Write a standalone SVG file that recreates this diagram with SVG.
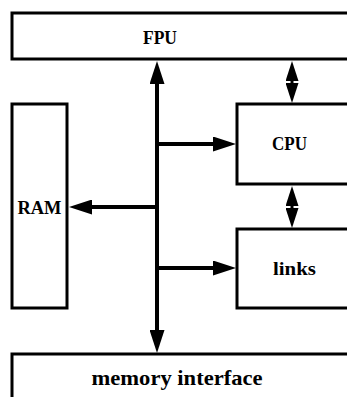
<svg xmlns="http://www.w3.org/2000/svg" width="347" height="397" viewBox="0 0 347 397">
<style>
.box{fill:#fff;stroke:#000;stroke-width:3}
.lbl{font-family:"Liberation Serif","DejaVu Serif",serif;font-weight:bold;font-size:18px;fill:#000;text-anchor:middle}
.big{font-size:21px}
.bus{stroke:#000;stroke-width:4;fill:none}
.dbl{stroke:#000;stroke-width:3;fill:none}
</style>
<defs>
<marker id="ah" markerUnits="userSpaceOnUse" markerWidth="23" markerHeight="15" viewBox="0 0 23 15" refX="1" refY="7.5" orient="auto-start-reverse"><path d="M0,0 L23,7.5 L0,15 z" fill="#000"/></marker>
<marker id="as" markerUnits="userSpaceOnUse" markerWidth="20" markerHeight="13" viewBox="0 0 20 13" refX="1" refY="6.5" orient="auto-start-reverse"><path d="M0,0 L20,6.5 L0,13 z" fill="#000"/></marker>
</defs>
<rect width="347" height="397" fill="#fff"/>
<g id="fpu"><rect class="box" x="12" y="13" width="360" height="46"/><text class="lbl" x="160" y="44" textLength="34" lengthAdjust="spacingAndGlyphs">FPU</text></g>
<g id="ram"><rect class="box" x="12" y="104" width="55" height="204"/><text class="lbl" x="39.5" y="214" textLength="44" lengthAdjust="spacingAndGlyphs">RAM</text></g>
<g id="cpu"><rect class="box" x="237" y="104" width="130" height="80"/><text class="lbl" x="289.5" y="150" textLength="35" lengthAdjust="spacingAndGlyphs">CPU</text></g>
<g id="links"><rect class="box" x="237" y="229" width="130" height="79"/><text class="lbl" x="294.5" y="275" textLength="43" lengthAdjust="spacingAndGlyphs">links</text></g>
<g id="memory"><rect class="box" x="12" y="354" width="360" height="60"/><text class="lbl big" x="177" y="385" textLength="171" lengthAdjust="spacingAndGlyphs">memory interface</text></g>
<g id="connectors">
<line class="bus" x1="157" y1="83" x2="157" y2="331" marker-start="url(#ah)" marker-end="url(#ah)"/>
<line class="bus" x1="157" y1="144" x2="214" y2="144" marker-end="url(#ah)"/>
<line class="bus" x1="157" y1="207" x2="91" y2="207" marker-end="url(#ah)"/>
<line class="bus" x1="157" y1="268" x2="214" y2="268" marker-end="url(#ah)"/>
<line class="dbl" x1="292" y1="80" x2="292" y2="84" marker-start="url(#as)" marker-end="url(#as)"/>
<line class="dbl" x1="292" y1="205" x2="292" y2="209" marker-start="url(#as)" marker-end="url(#as)"/>
</g>
</svg>
